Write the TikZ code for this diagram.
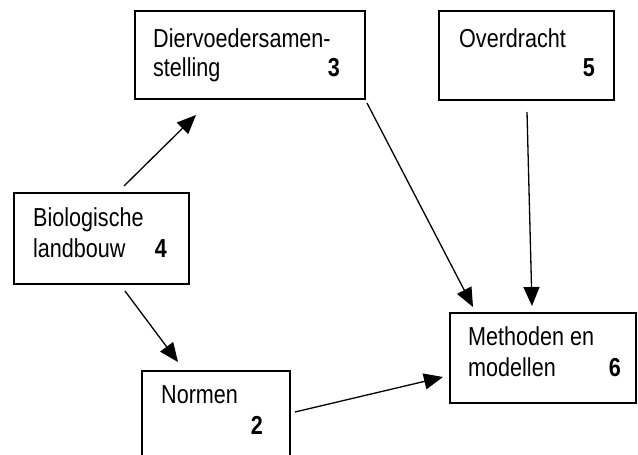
\documentclass[tikz,border=0pt]{standalone}
\usepackage{fontspec}
\setmainfont{Liberation Sans}
\newfontfamily\narrowsans[FakeStretch=0.83]{Liberation Sans}
\usetikzlibrary{arrows.meta}
\begin{document}
\begin{tikzpicture}[x=1pt,y=-1pt,
  box/.style={draw, line width=1.3pt, inner sep=0pt, outer sep=0pt, anchor=north west},
  lbl/.style={anchor=base west, inner sep=0pt, font=\narrowsans\fontsize{26}{30}\selectfont},
  num/.style={anchor=base east, inner sep=0pt, font=\narrowsans\fontsize{26}{30}\selectfont\bfseries},
  arr/.style={line width=1.3pt, -{Triangle[length=19pt,width=16pt]}}]
\useasboundingbox (0,0) rectangle (638,455);
\clip (0,0) rectangle (638,455);

% boxes
\node[box, minimum width=230pt, minimum height=88pt] (diet) at (135,11) {};
\node[box, minimum width=175pt, minimum height=89pt] (over) at (439,11) {};
\node[box, minimum width=175pt, minimum height=91pt] (bio)  at (14,193) {};
\node[box, minimum width=148pt, minimum height=110pt] (norm) at (142,371) {};
\node[box, minimum width=186pt, minimum height=90pt] (meth) at (450,313) {};

% box texts
\node[lbl] (dietA) at (153,47) {Diervoedersamen-};
\node[lbl] (dietB) at (153,76) {stelling};
\node[num] (dietN) at (340,76) {3};

\node[lbl] (overA) at (459,47) {Overdracht};
\node[num] (overN) at (595,76) {5};

\node[lbl] (bioA) at (33,226) {Biologische};
\node[lbl] (bioB) at (33,257) {landbouw};
\node[num] (bioN) at (167,257) {4};

\node[lbl] (normA) at (161,403) {Normen};
\node[num] (normN) at (263,434) {2};

\node[lbl] (methA) at (468,345) {Methoden en};
\node[lbl] (methB) at (468,376) {modellen};
\node[num] (methN) at (621,376) {6};

% connectors
\draw[arr] ([xshift=22.5pt,yshift=7pt]bio.north) -- ([xshift=-54pt,yshift=-16pt]diet.south);
\draw[arr] ([xshift=23.5pt,yshift=-7pt]bio.south) -- ([xshift=-38pt,yshift=9pt]norm.north);
\draw[arr] ([xshift=2pt,yshift=-4pt]diet.south east) -- ([xshift=23pt,yshift=6pt]meth.north west);
\draw[arr] ([xshift=0.5pt,yshift=-12pt]over.south) -- ([xshift=82pt,yshift=7pt]meth.north west);
\draw[arr] ([xshift=5pt,yshift=-41pt]norm.north east) -- ([xshift=-7pt,yshift=-19pt]meth.west);
\end{tikzpicture}
\end{document}
